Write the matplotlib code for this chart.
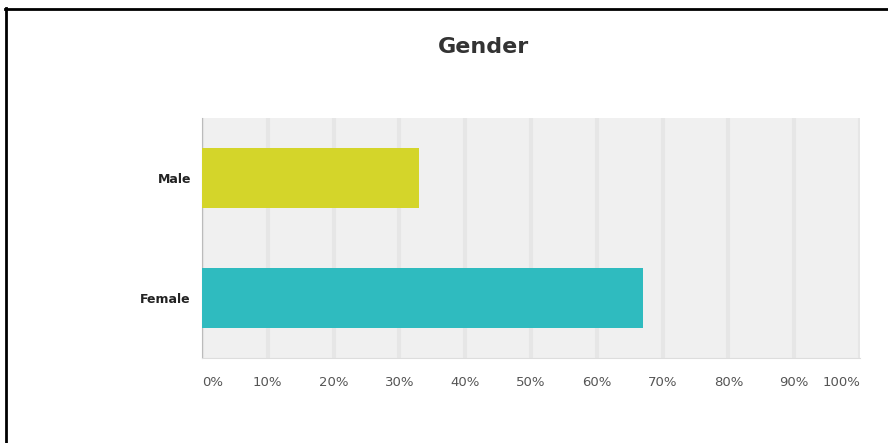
import matplotlib.pyplot as plt
from matplotlib.lines import Line2D

# Dados
categorias = ["Male", "Female"]
percentuais = [33, 67]
cores = ["#d4d52a", "#2fbbbf"]
ticks = [0, 10, 20, 30, 40, 50, 60, 70, 80, 90, 100]
rotulos = ["0%", "10%", "20%", "30%", "40%", "50%", "60%", "70%", "80%", "90%", "100%"]

plt.rcParams["font.family"] = ["DejaVu Sans"]

fig = plt.figure(figsize=(8.88, 4.43), dpi=100)
ax = fig.add_axes([202 / 888, 85 / 443, 658 / 888, 240 / 443])
ax.set_facecolor("#f0f0f0")

posicoes = list(range(len(categorias)))
ax.barh(posicoes, percentuais, height=0.5, color=cores, zorder=3)

ax.set_xlim(0, 100)
ax.set_ylim(1.5, -0.5)
ax.set_yticks(posicoes)
ax.set_yticklabels(categorias, fontsize=9, fontweight="bold", color="#222222")
ax.set_xticks(ticks)
ax.set_xticklabels([])
ax.tick_params(length=0, pad=8)

# rótulos do eixo x (0% e 100% ficam para dentro)
for t, r in zip(ticks, rotulos):
    ha = "center"
    if t == 0:
        ha = "left"
    elif t == 100:
        ha = "right"
    ax.text(t, 1.7, r, ha=ha, va="center", fontsize=9.5, color="#555555",
            clip_on=False)

ax.grid(axis="x", color="#e6e6e6", linewidth=3, zorder=1)
for lado in ["top", "right"]:
    ax.spines[lado].set_visible(False)
ax.spines["left"].set_color("#bbbbbb")
ax.spines["bottom"].set_color("#dddddd")

fig.text(483 / 888, 1 - 47 / 443, "Gender", ha="center", va="center",
         fontsize=16, fontweight="bold", color="#333333")

# moldura (apenas topo e esquerda visíveis)
fig.add_artist(Line2D([5 / 888, 1], [1 - 8.5 / 443, 1 - 8.5 / 443], color="black", linewidth=2))
fig.add_artist(Line2D([5.5 / 888, 5.5 / 888], [0, 1 - 8 / 443], color="black", linewidth=2))

fig.savefig("out.png", dpi=100)
